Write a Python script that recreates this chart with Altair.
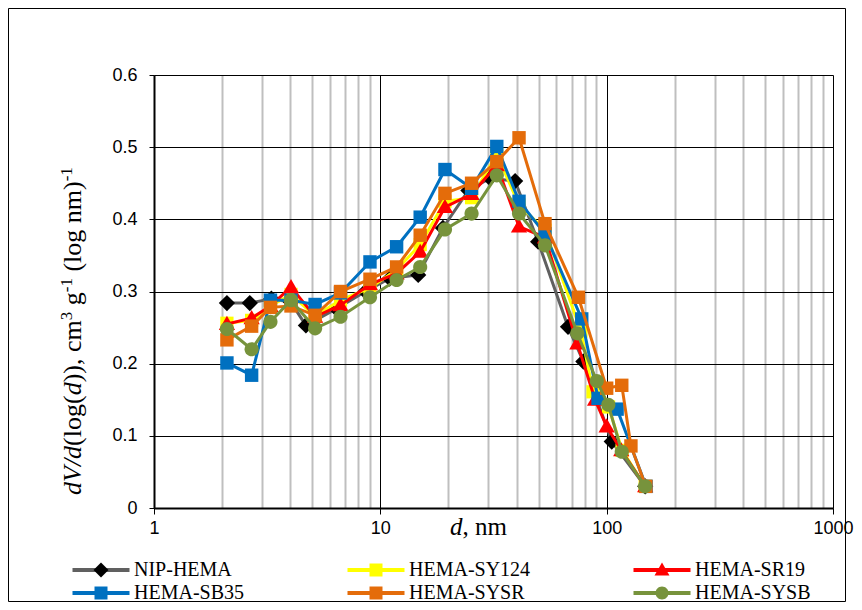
import altair as alt
import pandas as pd

# ---------------- data ----------------
series_names = ["NIP-HEMA", "HEMA-SY124", "HEMA-SR19", "HEMA-SB35", "HEMA-SYSR", "HEMA-SYSB"]
line_colors = ["#606060", "#ffff00", "#ff0000", "#0070c0", "#e46c0a", "#77933c"]
marker_colors = ["#000000", "#ffff00", "#ff0000", "#0070c0", "#e46c0a", "#77933c"]
marker_sizes = [200, 175, 200, 180, 180, 200]

base_d = [2.10, 2.70, 3.27, 4.03, 5.15, 6.67, 9.00, 11.8, 15.0, 19.3, 25.3, 32.7, 41.0, 53.4]

nip_d = [2.10, 2.65, 3.30, 4.03, 4.69, 6.40, 8.60, 11.0, 14.7, 18.9, 24.5, 30.5, 39.4, 49.8, 67.5, 78.9, 105.3, 148.0]
nip_v = [0.284, 0.284, 0.290, 0.285, 0.253, 0.276, 0.300, 0.318, 0.323, 0.388, 0.440, 0.457, 0.453, 0.369, 0.251, 0.203, 0.092, 0.030]

sy124_d = base_d + [77.0, 87.0, 102.0, 117.0, 148.0]
sy124_v = [0.256, 0.260, 0.280, 0.296, 0.266, 0.288, 0.305, 0.330, 0.365, 0.425, 0.430, 0.490, 0.420, 0.385,
           0.245, 0.161, 0.140, 0.080, 0.030]

sr19_d = base_d + [74.2, 88.9, 100.0, 116.0, 148.0]
sr19_v = [0.255, 0.263, 0.280, 0.306, 0.265, 0.281, 0.310, 0.325, 0.355, 0.417, 0.435, 0.475, 0.390, 0.375,
          0.228, 0.150, 0.113, 0.080, 0.030]

sb35_d = base_d + [77.6, 91.6, 111.2, 149.3]
sb35_v = [0.201, 0.184, 0.288, 0.288, 0.282, 0.298, 0.341, 0.362, 0.403, 0.469, 0.443, 0.501, 0.425, 0.380,
          0.262, 0.152, 0.137, 0.030]

sysr_d = base_d + [75.0, 100.0, 116.6, 128.0, 149.0]
sysr_v = [0.233, 0.252, 0.278, 0.280, 0.267, 0.300, 0.317, 0.334, 0.378, 0.436, 0.450, 0.480, 0.513, 0.394,
          0.292, 0.166, 0.170, 0.086, 0.030]

sysb_d = base_d + [74.2, 90.4, 101.7, 116.6, 147.8]
sysb_v = [0.248, 0.220, 0.258, 0.288, 0.249, 0.265, 0.292, 0.316, 0.334, 0.386, 0.408, 0.461, 0.408, 0.364,
          0.242, 0.176, 0.143, 0.078, 0.030]

all_d = [nip_d, sy124_d, sr19_d, sb35_d, sysr_d, sysb_d]
all_v = [nip_v, sy124_v, sr19_v, sb35_v, sysr_v, sysb_v]

y_ticks = [0, 0.1, 0.2, 0.3, 0.4, 0.5, 0.6]

# marker keys carry a zero-width suffix so the marker legend stays apart from the line legend
ZW = "\u200b"
marker_keys = [n + ZW for n in series_names]

rows = []
for name, mk, ds, vs in zip(series_names, marker_keys, all_d, all_v):
    for d, v in zip(ds, vs):
        rows.append({"series": name, "marker": mk, "d": d, "v": v})
df = pd.DataFrame(rows)

# ---------------- symbol paths (unit box) ----------------
EXT = "M-4.7,-0.6M4.7,0.6"
diamond = EXT + "M0,-1.15L1.15,0L0,1.15L-1.15,0Z"
square = EXT + "M-1,-1H1V1H-1Z"
triangle = EXT + "M0,-1.15L1.15,0.85L-1.15,0.85Z"
circle = EXT + "M1,0A1,1 0 1,1 -1,0A1,1 0 1,1 1,0Z"
marker_paths = [diamond, square, triangle, square, square, circle]
legend_line_path = EXT + "M-4.385,-0.31H4.385V0.31H-4.385Z"

# ---------------- styling ----------------
W, H = 679, 433
SANS = "Liberation Sans"
SERIF = "Liberation Serif"

x_grid_values = [m * 10 ** e for e in range(0, 3) for m in range(1, 10)] + [1000]
major_test = "indexof([1, 10, 100, 1000], datum.value) >= 0"

x_axis = alt.Axis(
    values=x_grid_values,
    title=None,
    labelExpr=f"{major_test} ? format(datum.value, 'd') : ''",
    labelFont=SANS, labelFontSize=18, labelColor="black", labelPadding=5,
    labelFlush=False, labelOverlap=False,
    grid=True,
    gridColor={"condition": {"test": major_test, "value": "#000000"}, "value": "#bfbfbf"},
    gridWidth={"condition": {"test": major_test, "value": 1}, "value": 2},
    tickColor={"condition": {"test": major_test, "value": "#000000"}, "value": "transparent"},
    tickSize=6, tickWidth=1,
    domainColor="black", domainWidth=2,
)
y_axis = alt.Axis(
    values=y_ticks,
    title=None,
    format="~g",
    labelFont=SANS, labelFontSize=18, labelColor="black", labelPadding=12,
    grid=True, gridColor="#000000", gridWidth=1,
    tickColor="black", tickSize=5, tickWidth=1,
    domainColor="black", domainWidth=2,
)

LEG_X = -63
LEG_Y = 485
common_leg = dict(
    title=None, orient="none", legendX=LEG_X, legendY=LEG_Y, direction="horizontal", columns=3,
    symbolSize=169, symbolStrokeWidth=0, symbolOpacity=1,
    labelFont=SERIF, labelFontSize=20, labelColor="black", labelOffset=23, labelLimit=400,
    columnPadding=100, rowPadding=3, padding=0,
)
line_legend = alt.Legend(symbolType=legend_line_path, zindex=1, **common_leg)
marker_legend = alt.Legend(labelOpacity=0, zindex=2, **common_leg)

xenc = alt.X("d:Q", scale=alt.Scale(type="log", domain=[1, 1000]), axis=x_axis)
yenc = alt.Y("v:Q", scale=alt.Scale(domain=[0, 0.6]), axis=y_axis)
stroke_enc = alt.Stroke("series:N", scale=alt.Scale(domain=series_names, range=line_colors), legend=None)
fill_enc = alt.Fill("marker:N", scale=alt.Scale(domain=marker_keys, range=marker_colors), legend=marker_legend)
shape_enc = alt.Shape("marker:N", scale=alt.Scale(domain=marker_keys, range=marker_paths), legend=marker_legend)

# legend-only layer (transparent marks): supplies the coloured line symbols of the legend
legend_lines = alt.Chart().mark_point(filled=True, opacity=0, strokeWidth=0, size=1).encode(
    x=xenc, y=yenc,
    color=alt.Color("series:N", scale=alt.Scale(domain=series_names, range=line_colors), legend=line_legend),
)
layers = [legend_lines]
for name, size in zip(series_names, marker_sizes):
    line = alt.Chart().mark_line(strokeWidth=3).encode(
        x=xenc, y=yenc, stroke=stroke_enc
    ).transform_filter(alt.datum.series == name)
    pts = alt.Chart().mark_point(filled=True, size=size, opacity=1, strokeWidth=0).encode(
        x=xenc, y=yenc, fill=fill_enc, shape=shape_enc
    ).transform_filter(alt.datum.series == name)
    layers += [line, pts]

# ---------------- rich-text axis titles ----------------
times_w = {"(": 333, ")": 333, "l": 278, "o": 500, "g": 500, ",": 250, " ": 250, "c": 444,
           "m": 778, "n": 500, "3": 500, "-": 333, "1": 500, "d": 500, "V": 611, "/": 278}

YS = 26
SUP = 17
y_pieces = [("dV/d", "italic", YS, False), ("(log(", "normal", YS, False), ("d", "italic", YS, False),
            (")), cm", "normal", YS, False), ("3", "normal", SUP, True), (" g", "normal", YS, False),
            ("-1", "normal", SUP, True), (" (log nm)", "normal", YS, False), ("-1", "normal", SUP, True)]
ytitle_rows = []
pos = 420.0
base_x = -73.0
for txt, style, fs, sup in y_pieces:
    w = sum(times_w[c] for c in txt) * fs / 1000.0
    lead = len(txt) - len(txt.lstrip(" "))
    start = pos - lead * times_w[" "] * fs / 1000.0
    ytitle_rows.append({"t": txt.strip(), "style": style, "fs": fs,
                        "px": base_x - (9.0 if sup else 0.0), "py": start})
    pos -= w
ytitle_df = pd.DataFrame(ytitle_rows)

text_layers = []
for style in ["italic", "normal"]:
    for fs in [YS, SUP]:
        sub = ytitle_df[(ytitle_df["style"] == style) & (ytitle_df["fs"] == fs)]
        if len(sub) == 0:
            continue
        text_layers.append(
            alt.Chart(sub).mark_text(angle=270, align="left", baseline="alphabetic", font=SERIF,
                                     fontSize=fs, fontStyle=style, color="black")
            .encode(x=alt.X("px:Q", scale=None), y=alt.Y("py:Q", scale=None), text="t:N")
        )

XS = 25
xtitle_df = pd.DataFrame([
    {"t": "d", "style": "italic", "px": 296.0, "py": 460.0},
    {"t": ", nm", "style": "normal", "px": 296.0 + 12.5, "py": 460.0},
])
for style in ["italic", "normal"]:
    text_layers.append(
        alt.Chart(xtitle_df[xtitle_df["style"] == style]).mark_text(
            align="left", baseline="alphabetic", font=SERIF, fontSize=XS, fontStyle=style, color="black")
        .encode(x=alt.X("px:Q", scale=None), y=alt.Y("py:Q", scale=None), text="t:N")
    )

border = alt.Chart(alt.Data(values=[{"a": 1}])).mark_rect(filled=False, stroke="#000000", strokeWidth=1).encode(
    x=alt.value(-145.5), x2=alt.value(691.5), y=alt.value(-66.5), y2=alt.value(526.5)
)

chart = alt.layer(*layers, data=df)
full = alt.layer(chart, *text_layers, border).resolve_scale(
    x="independent", y="independent"
).properties(
    width=W, height=H,
    autosize=alt.AutoSizeParams(type="none"),
    padding={"left": 146, "top": 67, "right": 21, "bottom": 94},
).configure_view(stroke="transparent")

full.save("out.html", embed_options={"renderer": "svg", "actions": False})
